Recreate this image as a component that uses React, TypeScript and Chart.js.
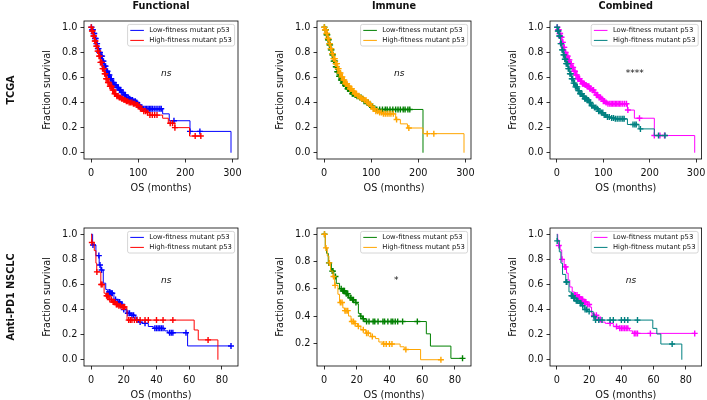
import React, { useEffect, useRef } from "react";
import { Chart, registerables } from "chart.js";
Chart.register(...registerables);

// ---------- text ----------
const SERIES_LABELS = ["Low-fitness mutant p53", "High-fitness mutant p53"];
const COLUMN_TITLES = ["Functional", "Immune", "Combined"];
const ROW_LABELS = ["TCGA", "Anti-PD1 NSCLC"];
const X_LABEL = "OS (months)";
const Y_LABEL = "Fraction survival";
const SIGNIFICANCE = ["ns", "ns", "****", "ns", "*", "ns"];

// ---------- ticks / ranges ----------
const TCGA_X_TICKS = [0, 100, 200, 300];
const NSCLC_X_TICKS = [0, 20, 40, 60, 80];
const Y_TICKS_FULL = [0, 0.2, 0.4, 0.6, 0.8, 1.0];
const Y_TICKS_NO_ZERO = [0.2, 0.4, 0.6, 0.8, 1.0];
const TCGA_X_RANGE = [-14.85, 311.85];
const NSCLC_X_RANGE = [-4.275, 89.775];
const Y_RANGE_FULL = [-0.05, 1.05];
const Y_RANGE_IMMUNE_NSCLC = [0.034, 1.046];

// ---------- TCGA Functional ----------
const tcgaFuncLowT = [0, 2, 5, 8, 11, 14, 17, 20, 24, 28, 32, 36, 40, 45, 50, 55, 60, 65, 70, 75, 80, 85, 90, 95, 100, 104, 108, 152, 166, 210, 297];
const tcgaFuncLowS = [1, 0.98, 0.95, 0.91, 0.87, 0.83, 0.8, 0.77, 0.73, 0.69, 0.65, 0.62, 0.59, 0.56, 0.54, 0.52, 0.5, 0.48, 0.46, 0.44, 0.43, 0.42, 0.41, 0.4, 0.38, 0.36, 0.35, 0.31, 0.255, 0.17, 0.0];
const tcgaFuncLowC = [1, 2.5, 4, 5.5, 7, 8.5, 10, 11.5, 13, 14.5, 16, 17.5, 19, 20.5, 22, 23.5, 25, 26.5, 28, 29.5, 31, 33, 35, 37, 39, 41, 43, 45.5, 48, 50.5, 53, 55.5, 58, 60.5, 63, 65.5, 68, 70.5, 73, 76, 79, 82, 85, 88, 91, 94, 97, 100, 103, 106, 109, 112, 115, 118, 121, 124, 127, 130, 134, 138, 142, 146, 149, 176, 210, 231];
const tcgaFuncHighT = [0, 2, 5, 8, 11, 14, 17, 20, 24, 28, 32, 36, 40, 45, 50, 55, 60, 65, 70, 75, 80, 88, 95, 100, 105, 110, 118, 125, 152, 164, 178, 209, 233];
const tcgaFuncHighS = [1, 0.97, 0.93, 0.89, 0.85, 0.81, 0.77, 0.72, 0.67, 0.63, 0.59, 0.56, 0.53, 0.5, 0.47, 0.45, 0.44, 0.43, 0.42, 0.41, 0.4, 0.39, 0.38, 0.37, 0.35, 0.33, 0.32, 0.3, 0.275, 0.235, 0.2, 0.133, 0.133];
const tcgaFuncHighC = [0.5, 2, 3.5, 5, 6.5, 8, 9.5, 11, 12.5, 14, 15.5, 17, 18.5, 20, 21.5, 23, 24.5, 26, 27.5, 29, 30.5, 32, 34, 36, 38, 40, 42, 44, 46, 48, 50, 52.5, 55, 57.5, 60, 62.5, 65, 67.5, 70, 72.5, 75, 78, 81, 84, 87, 90, 93, 96, 99, 102, 105, 108, 112, 116, 120, 125, 130, 135, 140, 168, 173, 178, 221, 233];

// ---------- TCGA Immune ----------
const tcgaImmLowT = [0, 2, 5, 8, 11, 14, 17, 20, 24, 28, 32, 36, 40, 45, 50, 55, 60, 65, 70, 75, 80, 85, 90, 95, 100, 105, 110, 210];
const tcgaImmLowS = [1, 0.98, 0.94, 0.9, 0.86, 0.82, 0.78, 0.73, 0.685, 0.645, 0.61, 0.58, 0.555, 0.53, 0.51, 0.49, 0.47, 0.46, 0.45, 0.44, 0.43, 0.41, 0.4, 0.38, 0.37, 0.355, 0.345, 0.0];
const tcgaImmLowC = [1, 2.5, 4, 5.5, 7, 8.5, 10, 11.5, 13, 14.5, 16, 17.5, 19, 20.5, 22, 23.5, 25, 26.5, 28, 30, 32, 34, 36, 38, 40, 42, 44, 46, 48, 50, 52, 54, 56, 58, 60, 62, 64, 66, 68, 70, 73, 76, 79, 82, 85, 88, 91, 94, 97, 100, 103, 106, 112, 118, 124, 130, 134, 140, 146, 152, 157, 162, 168, 172, 178, 182];
const tcgaImmHighT = [0, 2, 5, 8, 11, 14, 17, 20, 24, 28, 32, 36, 40, 45, 50, 55, 60, 65, 70, 75, 80, 85, 90, 95, 100, 104, 108, 118, 125, 152, 162, 177, 210, 297];
const tcgaImmHighS = [1, 0.98, 0.95, 0.91, 0.87, 0.83, 0.79, 0.75, 0.71, 0.67, 0.635, 0.605, 0.58, 0.55, 0.53, 0.51, 0.49, 0.47, 0.455, 0.44, 0.43, 0.42, 0.4, 0.39, 0.37, 0.35, 0.33, 0.32, 0.31, 0.265, 0.23, 0.197, 0.152, 0.0];
const tcgaImmHighC = [0.5, 2, 3.5, 5, 6.5, 8, 9.5, 11, 12.5, 14, 15.5, 17, 18.5, 20, 21.5, 23, 24.5, 26, 27.5, 29, 31, 33, 35, 37, 39, 41, 43, 45, 47, 49, 51, 53, 55, 57, 59, 61, 63, 65, 67, 69, 71, 74, 77, 80, 83, 86, 89, 92, 95, 98, 101, 104, 107, 110, 114, 118, 122, 126, 130, 134, 138, 142, 147, 154, 180, 219, 233];

// ---------- TCGA Combined ----------
const tcgaCombLowT = [0, 2, 5, 8, 11, 14, 17, 20, 24, 28, 32, 36, 40, 45, 50, 55, 60, 65, 70, 75, 80, 85, 90, 95, 100, 105, 110, 152, 167, 210, 297];
const tcgaCombLowS = [1, 0.98, 0.95, 0.92, 0.88, 0.84, 0.8, 0.77, 0.74, 0.71, 0.68, 0.65, 0.62, 0.59, 0.57, 0.55, 0.54, 0.53, 0.51, 0.5, 0.48, 0.46, 0.44, 0.43, 0.41, 0.4, 0.39, 0.34, 0.275, 0.137, 0.0];
const tcgaCombLowC = [1, 2.5, 4, 5.5, 7, 8.5, 10, 11.5, 13, 14.5, 16, 17.5, 19, 20.5, 22, 23.5, 25, 27, 29, 31, 33, 35, 37, 39, 41, 43, 45, 47, 49, 51, 53, 55, 57, 59, 61, 63, 65, 67, 69, 71, 73, 76, 79, 82, 85, 88, 91, 94, 97, 100, 103, 106, 110, 114, 117, 120, 123, 126, 129, 132, 135, 138, 142, 146, 150, 153, 178, 210, 222, 232];
const tcgaCombHighT = [0, 2, 5, 8, 11, 14, 17, 20, 24, 28, 32, 36, 40, 45, 50, 55, 60, 65, 70, 75, 80, 85, 90, 95, 100, 108, 115, 125, 152, 177, 210, 233];
const tcgaCombHighS = [1, 0.97, 0.93, 0.87, 0.82, 0.78, 0.745, 0.71, 0.67, 0.63, 0.59, 0.555, 0.525, 0.495, 0.47, 0.45, 0.43, 0.42, 0.4, 0.375, 0.36, 0.35, 0.33, 0.32, 0.3, 0.285, 0.277, 0.27, 0.225, 0.19, 0.137, 0.137];
const tcgaCombHighC = [0.5, 2, 3.5, 5, 6.5, 8, 9.5, 11, 12.5, 14, 15.5, 17, 18.5, 20, 21.5, 23, 24.5, 26, 28, 30, 32, 34, 36, 38, 40, 42, 44, 46, 48, 50, 52, 54, 56, 58, 60, 62, 64, 66, 68, 70, 72, 75, 78, 81, 84, 87, 90, 93, 96, 99, 102, 105, 109, 113, 118, 122, 126, 130, 134, 138, 142, 145, 164, 168, 171, 180, 219, 233];

// ---------- Anti-PD1 NSCLC Functional ----------
const nsFuncLowT = [0, 1, 3, 5, 6, 7.5, 9, 10, 12, 14, 16, 18, 20, 21.5, 24, 27, 29, 31, 35, 38, 45, 47, 59, 85.5];
const nsFuncLowS = [1, 0.915, 0.83, 0.755, 0.715, 0.61, 0.56, 0.54, 0.53, 0.48, 0.46, 0.44, 0.4, 0.37, 0.355, 0.32, 0.3, 0.29, 0.265, 0.25, 0.23, 0.215, 0.11, 0.11];
const nsFuncLowC = [1.2, 4.8, 5.5, 6.5, 11, 11.5, 12, 12.5, 13, 15, 16.5, 17.5, 18.5, 19, 20, 22.5, 23.5, 25, 26, 28, 30, 33, 39, 40, 41, 42, 43, 44, 48, 49, 50, 58, 85.5];
const nsFuncHighT = [0, 0.4, 2, 3, 3.5, 6, 8, 9, 11, 13, 15, 17, 19, 21, 22, 63, 65.5, 77.5];
const nsFuncHighS = [1, 0.935, 0.87, 0.77, 0.7, 0.6, 0.53, 0.51, 0.48, 0.46, 0.44, 0.43, 0.42, 0.41, 0.316, 0.237, 0.158, 0.0];
const nsFuncHighC = [0.5, 3.6, 6.2, 6.8, 9.5, 10, 10.5, 11.5, 12.5, 13.5, 14, 14.5, 15.5, 16, 17, 18, 19, 20, 20.5, 23, 24, 25, 26.5, 28, 30, 33, 35, 40, 44, 50, 71.5];

// ---------- Anti-PD1 NSCLC Immune ----------
const nsImmLowT = [0, 0.8, 1.6, 2.6, 4.5, 6, 7.5, 9.5, 11, 13, 15, 17, 19, 20, 21, 22, 23.5, 25, 62.5, 65, 77.5, 84.6];
const nsImmLowS = [1, 0.9, 0.86, 0.79, 0.73, 0.69, 0.64, 0.6, 0.585, 0.565, 0.535, 0.52, 0.5, 0.49, 0.42, 0.4, 0.38, 0.36, 0.27, 0.18, 0.09, 0.09];
const nsImmLowC = [0.3, 3, 5, 5.5, 7, 10.5, 11.5, 12, 12.5, 13.5, 14, 14.5, 16, 16.5, 17.5, 18, 19.5, 22.5, 24, 26, 27.5, 30, 31, 33, 36, 37, 39, 41, 42, 43.5, 45, 48, 57, 84.6];
const nsImmHighT = [0, 0.8, 2, 3, 4, 5.5, 6.5, 8.5, 9.5, 11.5, 12.5, 15, 16.5, 18.5, 20.5, 22.5, 25.5, 28.5, 31.5, 33.5, 36, 46.5, 49, 59, 71.4];
const nsImmHighS = [1, 0.9, 0.84, 0.79, 0.73, 0.69, 0.625, 0.56, 0.5, 0.46, 0.44, 0.4, 0.36, 0.345, 0.325, 0.3, 0.275, 0.25, 0.235, 0.21, 0.195, 0.175, 0.155, 0.08, 0.08];
const nsImmHighC = [0.3, 1.2, 3.3, 5.8, 6.8, 10, 11, 12.8, 13.5, 14.5, 17, 18, 19, 21, 24, 26, 27, 29.5, 36.5, 38, 40, 41.5, 50, 71.4];

// ---------- Anti-PD1 NSCLC Combined ----------
const nsCombLowT = [0, 0.5, 1.2, 2, 3, 4.5, 6, 7, 8, 9.5, 11, 13, 15, 17, 19, 20.5, 21.5, 23, 25, 27.5, 30, 35, 38, 45, 47, 85.5];
const nsCombLowS = [1, 0.955, 0.91, 0.875, 0.8, 0.74, 0.69, 0.635, 0.58, 0.54, 0.515, 0.5, 0.48, 0.46, 0.44, 0.42, 0.37, 0.355, 0.32, 0.3, 0.29, 0.265, 0.25, 0.23, 0.21, 0.21];
const nsCombLowC = [1.2, 3.2, 5, 5.5, 11, 11.5, 12.5, 13.5, 14, 15, 15.5, 16, 17, 17.5, 18, 19, 20, 23, 24.5, 26, 27, 33, 37, 39, 40, 41, 42, 43, 44, 48, 49, 50, 58, 85.5];
const nsCombHighT = [0, 0.2, 1.5, 2.5, 3.5, 5.5, 7.5, 9, 10.5, 12, 14, 15.5, 17, 19, 22.5, 23.5, 59.5, 62, 64.5, 77.5];
const nsCombHighS = [1, 0.947, 0.86, 0.77, 0.68, 0.62, 0.54, 0.51, 0.49, 0.47, 0.45, 0.43, 0.4, 0.385, 0.345, 0.316, 0.25, 0.205, 0.125, 0.0];
const nsCombHighC = [0.2, 5.8, 6.2, 9, 9.5, 10, 10.5, 11, 12, 12.5, 13, 14.5, 15, 16, 17.5, 18.5, 20, 23, 24, 26, 28, 33, 35, 40, 42, 44, 50, 71.5];

// ---------- colours ----------
const COLORS_FUNCTIONAL = ["#0000ff", "#ff0000"];
const COLORS_IMMUNE = ["#008000", "#ffa500"];
const COLORS_COMBINED = ["#ff00ff", "#008080"];

const FONT = "DejaVu Sans";
const TEXT_COLOR = "#111";

type Curve = { t: number[]; s: number[]; c: number[] };

function survAt(t: number[], s: number[], x: number) {
  let v = s[0];
  for (let i = 0; i < t.length; i++) {
    if (t[i] <= x) v = s[i];
    else break;
  }
  return v;
}

const decorPlugin = {
  id: "kmDecor",
  afterDraw(chart: any, _args: any, opts: any) {
    const { ctx, chartArea: a } = chart;
    ctx.save();
    // frame
    ctx.strokeStyle = "#000";
    ctx.lineWidth = 0.8;
    ctx.strokeRect(a.left, a.top, a.right - a.left, a.bottom - a.top);

    // legend
    const fs = 6.8;
    ctx.font = `${fs}px "${FONT}"`;
    const tw = Math.max(...SERIES_LABELS.map((l) => ctx.measureText(l).width));
    const pad = 2.7, hl = 13.6, tp = 5.4;
    const w = pad + hl + tp + tw + pad;
    const h = 21.6;
    const x0 = a.right - 3.4 - w;
    const y0 = a.top + 3.4;
    ctx.beginPath();
    if ((ctx as any).roundRect) (ctx as any).roundRect(x0, y0, w, h, 2);
    else ctx.rect(x0, y0, w, h);
    ctx.fillStyle = "rgba(255,255,255,0.8)";
    ctx.fill();
    ctx.strokeStyle = "#cccccc";
    ctx.lineWidth = 0.8;
    ctx.stroke();
    SERIES_LABELS.forEach((l, i) => {
      const cy = y0 + 6 + i * 10;
      ctx.strokeStyle = opts.colors[i];
      ctx.lineWidth = 1;
      ctx.beginPath();
      ctx.moveTo(x0 + pad, cy);
      ctx.lineTo(x0 + pad + hl, cy);
      ctx.stroke();
      ctx.fillStyle = TEXT_COLOR;
      ctx.textAlign = "left";
      ctx.textBaseline = "middle";
      ctx.fillText(l, x0 + pad + hl + tp, cy);
    });

    // significance annotation
    const sig = opts.sig as string;
    ctx.font = `${sig === "ns" ? "italic " : ""}9px "${FONT}"`;
    ctx.fillStyle = TEXT_COLOR;
    ctx.textAlign = "left";
    ctx.textBaseline = "alphabetic";
    ctx.fillText(sig, a.left + 0.5 * (a.right - a.left), a.bottom - 0.6 * (a.bottom - a.top));

    // column title
    if (opts.title) {
      ctx.font = `bold 9.7px "${FONT}"`;
      ctx.textAlign = "center";
      ctx.textBaseline = "alphabetic";
      ctx.fillText(opts.title, (a.left + a.right) / 2, 8.8);
    }
    // row label
    if (opts.rowLabel) {
      ctx.font = `bold 9.7px "${FONT}"`;
      ctx.translate(13.6, (a.top + a.bottom) / 2);
      ctx.rotate(-Math.PI / 2);
      ctx.textAlign = "center";
      ctx.textBaseline = "alphabetic";
      ctx.fillText(opts.rowLabel, 0, 0);
    }
    ctx.restore();
  },
};

type PanelProps = {
  left: number;
  top: number;
  width: number;
  height: number;
  padding: { left: number; right: number; top: number; bottom: number };
  curves: Curve[];
  colors: string[];
  xRange: number[];
  xTicks: number[];
  yRange: number[];
  yTicks: number[];
  sig: string;
  title?: string;
  rowLabel?: string;
};

function Panel(p: PanelProps) {
  const ref = useRef<HTMLCanvasElement>(null);
  useEffect(() => {
    if (!ref.current) return;
    const datasets: any[] = [];
    // draw High (index 1) on top: Chart.js draws lower indices last
    [1, 0].forEach((k) => {
      const cv = p.curves[k];
      const col = p.colors[k];
      datasets.push({
        data: cv.c.map((x) => ({ x, y: survAt(cv.t, cv.s, x) })),
        showLine: false,
        pointStyle: "cross",
        pointRadius: 3,
        pointBorderWidth: 1.4,
        pointBorderColor: col,
        pointBackgroundColor: col,
        borderColor: col,
      });
      datasets.push({
        data: cv.t.map((x, i) => ({ x, y: cv.s[i] })),
        stepped: true,
        borderColor: col,
        borderWidth: 1,
        pointRadius: 0,
        fill: false,
      });
    });
    const tickFont = { family: FONT, size: 9.7 };
    const titleFont = { family: FONT, size: 9.7, lineHeight: 1 };
    const chart = new Chart(ref.current, {
      type: "line",
      data: { datasets },
      plugins: [decorPlugin as any],
      options: {
        animation: false,
        responsive: false,
        devicePixelRatio: 1,
        layout: { padding: p.padding },
        plugins: {
          legend: { display: false },
          tooltip: { enabled: false },
          title: { display: false },
          kmDecor: { colors: p.colors, sig: p.sig, title: p.title, rowLabel: p.rowLabel },
        } as any,
        scales: {
          x: {
            type: "linear",
            min: p.xRange[0],
            max: p.xRange[1],
            afterBuildTicks: (s: any) => {
              s.ticks = p.xTicks.map((v) => ({ value: v }));
            },
            afterFit: (s: any) => {
              s.height = 34;
              s.paddingLeft = 0;
              s.paddingRight = 0;
              s.paddingTop = 0;
              s.paddingBottom = 0;
            },
            ticks: {
              font: tickFont,
              color: TEXT_COLOR,
              padding: 5,
              maxRotation: 0,
              callback: (v: any) => String(v),
            },
            grid: { drawOnChartArea: false, drawTicks: true, tickLength: 3.5, tickColor: "#000", tickWidth: 0.8 },
            border: { display: false },
            title: { display: true, text: X_LABEL, font: titleFont, color: TEXT_COLOR, padding: { top: 0, bottom: 0 } },
          },
          y: {
            type: "linear",
            min: p.yRange[0],
            max: p.yRange[1],
            afterBuildTicks: (s: any) => {
              s.ticks = p.yTicks.map((v) => ({ value: v }));
            },
            afterFit: (s: any) => {
              s.width = 41;
              s.paddingLeft = 0;
              s.paddingRight = 0;
              s.paddingTop = 0;
              s.paddingBottom = 0;
            },
            ticks: {
              font: tickFont,
              color: TEXT_COLOR,
              padding: 3,
              callback: (v: any) => Number(v).toFixed(1),
            },
            grid: { drawOnChartArea: false, drawTicks: true, tickLength: 3.5, tickColor: "#000", tickWidth: 0.8 },
            border: { display: false },
            title: { display: true, text: Y_LABEL, font: titleFont, color: TEXT_COLOR, padding: { top: 0, bottom: 0 } },
          },
        },
      } as any,
    });
    return () => chart.destroy();
  }, []);
  return (
    <canvas
      ref={ref}
      width={p.width}
      height={p.height}
      style={{ position: "absolute", left: p.left, top: p.top, width: p.width, height: p.height }}
    />
  );
}

// layout geometry
const COLS = [
  { left: 0, width: 245, box: 84 },
  { left: 245, width: 233, box: 317 },
  { left: 478, width: 229, box: 550 },
];
const ROWS = [
  { top: 0, height: 200, boxTop: 21, boxBottom: 159 },
  { top: 200, height: 200, boxTop: 228, boxBottom: 366 },
];
const BOX_W = 154;

export default function App() {
  const panels = [
    { curves: [{ t: tcgaFuncLowT, s: tcgaFuncLowS, c: tcgaFuncLowC }, { t: tcgaFuncHighT, s: tcgaFuncHighS, c: tcgaFuncHighC }], colors: COLORS_FUNCTIONAL, xRange: TCGA_X_RANGE, xTicks: TCGA_X_TICKS, yRange: Y_RANGE_FULL, yTicks: Y_TICKS_FULL },
    { curves: [{ t: tcgaImmLowT, s: tcgaImmLowS, c: tcgaImmLowC }, { t: tcgaImmHighT, s: tcgaImmHighS, c: tcgaImmHighC }], colors: COLORS_IMMUNE, xRange: TCGA_X_RANGE, xTicks: TCGA_X_TICKS, yRange: Y_RANGE_FULL, yTicks: Y_TICKS_FULL },
    { curves: [{ t: tcgaCombLowT, s: tcgaCombLowS, c: tcgaCombLowC }, { t: tcgaCombHighT, s: tcgaCombHighS, c: tcgaCombHighC }], colors: COLORS_COMBINED, xRange: TCGA_X_RANGE, xTicks: TCGA_X_TICKS, yRange: Y_RANGE_FULL, yTicks: Y_TICKS_FULL },
    { curves: [{ t: nsFuncLowT, s: nsFuncLowS, c: nsFuncLowC }, { t: nsFuncHighT, s: nsFuncHighS, c: nsFuncHighC }], colors: COLORS_FUNCTIONAL, xRange: NSCLC_X_RANGE, xTicks: NSCLC_X_TICKS, yRange: Y_RANGE_FULL, yTicks: Y_TICKS_FULL },
    { curves: [{ t: nsImmLowT, s: nsImmLowS, c: nsImmLowC }, { t: nsImmHighT, s: nsImmHighS, c: nsImmHighC }], colors: COLORS_IMMUNE, xRange: NSCLC_X_RANGE, xTicks: NSCLC_X_TICKS, yRange: Y_RANGE_IMMUNE_NSCLC, yTicks: Y_TICKS_NO_ZERO },
    { curves: [{ t: nsCombLowT, s: nsCombLowS, c: nsCombLowC }, { t: nsCombHighT, s: nsCombHighS, c: nsCombHighC }], colors: COLORS_COMBINED, xRange: NSCLC_X_RANGE, xTicks: NSCLC_X_TICKS, yRange: Y_RANGE_FULL, yTicks: Y_TICKS_FULL },
  ];
  return (
    <div style={{ position: "absolute", left: 0, top: 0, width: 707, height: 400, background: "#fff", overflow: "hidden" }}>
      {panels.map((pp, i) => {
        const r = Math.floor(i / 3);
        const c = i % 3;
        const col = COLS[c];
        const row = ROWS[r];
        const padding = {
          left: col.box - col.left - 41,
          right: col.left + col.width - (col.box + BOX_W),
          top: row.boxTop - row.top,
          bottom: row.top + row.height - row.boxBottom - 34,
        };
        return (
          <Panel
            key={i}
            left={col.left}
            top={row.top}
            width={col.width}
            height={row.height}
            padding={padding}
            sig={SIGNIFICANCE[i]}
            title={r === 0 ? COLUMN_TITLES[c] : undefined}
            rowLabel={c === 0 ? ROW_LABELS[r] : undefined}
            {...pp}
          />
        );
      })}
    </div>
  );
}
